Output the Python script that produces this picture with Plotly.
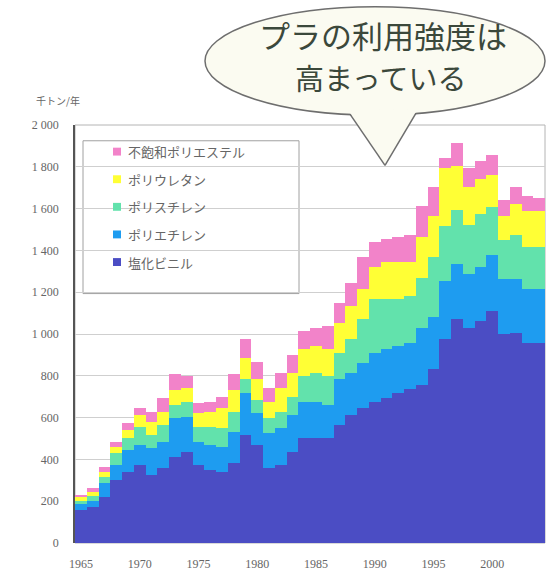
import plotly.graph_objects as go

# Japanese plastic consumption by resin type, thousand tonnes per year
years = list(range(1965, 2005))

pvc = [160, 171, 218, 303, 341, 375, 327, 360, 412, 436,
       375, 351, 341, 384, 517, 470, 360, 375, 436, 502,
       502, 502, 564, 611, 645, 673, 692, 716, 739, 754,
       834, 976, 1071, 1029, 1062, 1109, 1000, 1005, 957, 957]
polyethylene = [25, 28, 71, 72, 105, 95, 128, 124, 185, 166,
                109, 119, 119, 147, 199, 151, 166, 175, 175, 171,
                171, 157, 223, 204, 218, 237, 237, 227, 218, 276,
                246, 279, 266, 260, 260, 270, 261, 256, 256, 256]
polystyrene = [14, 24, 29, 56, 56, 85, 62, 80, 62, 71,
               71, 85, 90, 95, 71, 61, 71, 76, 86, 128,
               142, 142, 123, 161, 208, 256, 237, 223, 223, 237,
               290, 260, 258, 232, 252, 228, 189, 213, 204, 204]
polyurethane = [19, 19, 23, 29, 38, 56, 61, 62, 71, 71,
                66, 71, 95, 104, 99, 105, 76, 118, 118, 128,
                128, 128, 142, 157, 142, 156, 180, 180, 166, 198,
                195, 281, 210, 181, 168, 153, 117, 147, 173, 173]
unsat_polyester = [14, 23, 24, 24, 33, 34, 48, 66, 81, 57,
                   47, 47, 52, 81, 90, 81, 71, 71, 85, 85,
                   85, 109, 95, 109, 157, 119, 109, 119, 128, 147,
                   137, 48, 110, 94, 87, 98, 75, 84, 70, 62]

series_names = ["塩化ビニル", "ポリエチレン", "ポリスチレン", "ポリウレタン", "不飽和ポリエステル"]
series_values = [pvc, polyethylene, polystyrene, polyurethane, unsat_polyester]
series_colors = ["#4b4dc4", "#1e9cf0", "#62e2ac", "#ffff35", "#f283c9"]

y_ticks = [0, 200, 400, 600, 800, 1000, 1200, 1400, 1600, 1800, 2000]
y_tick_text = ["0", "200", "400", "600", "800", "1 000", "1 200", "1 400", "1 600", "1 800", "2 000"]
x_ticks = [1965, 1970, 1975, 1980, 1985, 1990, 1995, 2000]

y_title = "千トン/年"
bubble_lines = ["プラの利用強度は", "高まっている"]

W, H = 552, 578
ML, MR, MT, MB = 75, 7, 125, 29
PW, PH = W - ML - MR, H - MT - MB


def px(x):
    return (x - ML) / PW


def py(y):
    return (H - MB - y) / PH


fig = go.Figure()
for name, vals, col in zip(series_names, series_values, series_colors):
    fig.add_trace(go.Bar(x=years, y=vals, name=name, marker=dict(color=col, line=dict(width=0)),
                         showlegend=False))

shapes = []
annotations = []

# plot frame
shapes.append(dict(type="rect", xref="paper", yref="paper", x0=0, x1=1, y0=0, y1=1,
                   line=dict(color="#b4b4b4", width=1), layer="below"))

# legend box with swatches
shapes.append(dict(type="rect", xref="paper", yref="paper", x0=px(83), x1=px(299), y0=py(296), y1=py(141),
                   line=dict(color="#a0a0a0", width=1), fillcolor="white", layer="between"))
legend_rows = [152, 180, 208, 236, 264]
for row_y, name, col in zip(legend_rows, series_names[::-1], series_colors[::-1]):
    shapes.append(dict(type="rect", xref="paper", yref="paper", x0=px(113), x1=px(121),
                       y0=py(row_y + 4), y1=py(row_y - 4), line=dict(width=0), fillcolor=col, layer="above"))
    annotations.append(dict(xref="paper", yref="paper", x=px(126), y=py(row_y), text=name,
                            showarrow=False, xanchor="left", yanchor="middle",
                            font=dict(family="Noto Sans CJK JP", size=13, color="#666666")))

# speech bubble
fill = "#fbfbf1"
edge = "#6e6e6e"
shapes.append(dict(type="circle", xref="paper", yref="paper", x0=px(205), x1=px(545), y0=py(115), y1=py(5),
                   line=dict(color=edge, width=1.5), fillcolor=fill, layer="above"))
tail = "M {},{} L {},{} L {},{} Z".format(px(348), py(110), px(385), py(166), px(418), py(109))
shapes.append(dict(type="path", xref="paper", yref="paper", path=tail, fillcolor=fill,
                   line=dict(width=0), layer="above"))
shapes.append(dict(type="line", xref="paper", yref="paper", x0=px(350), y0=py(114), x1=px(385), y1=py(166),
                   line=dict(color=edge, width=1.5), layer="above"))
shapes.append(dict(type="line", xref="paper", yref="paper", x0=px(416), y0=py(113), x1=px(385), y1=py(166),
                   line=dict(color=edge, width=1.5), layer="above"))
annotations.append(dict(xref="paper", yref="paper", x=px(383), y=py(33), text=bubble_lines[0],
                        showarrow=False, xanchor="center", yanchor="middle",
                        font=dict(family="Noto Sans CJK JP", size=31, color="#3b483b")))
annotations.append(dict(xref="paper", yref="paper", x=px(380), y=py(76), text=bubble_lines[1],
                        showarrow=False, xanchor="center", yanchor="middle",
                        font=dict(family="Noto Sans CJK JP", size=29, color="#3b483b")))

# y axis unit label
annotations.append(dict(xref="paper", yref="paper", x=px(34), y=py(100), text=y_title,
                        showarrow=False, xanchor="left", yanchor="middle",
                        font=dict(family="Noto Sans CJK JP", size=10, color="#666666")))

fig.update_layout(
    barmode="stack",
    bargap=0,
    width=W, height=H,
    margin=dict(l=ML, r=MR, t=MT, b=MB, pad=0),
    paper_bgcolor="white",
    plot_bgcolor="white",
    shapes=shapes,
    annotations=annotations,
    showlegend=False,
    xaxis=dict(range=[1964.5, 2004.5], tickmode="array", tickvals=x_ticks,
               ticks="", showgrid=False, zeroline=False, showline=False,
               tickfont=dict(family="Liberation Serif", size=12, color="#666666"),
               ticklabelstandoff=12),
    yaxis=dict(range=[0, 2000], tickmode="array", tickvals=y_ticks, ticktext=y_tick_text,
               ticks="", showgrid=True, gridcolor="#cfcfcf", gridwidth=1, zeroline=False,
               showline=True, linecolor="#555555", linewidth=1.5,
               tickfont=dict(family="Liberation Serif", size=12, color="#666666"),
               ticklabelstandoff=12),
)

fig.write_html("out.html")
